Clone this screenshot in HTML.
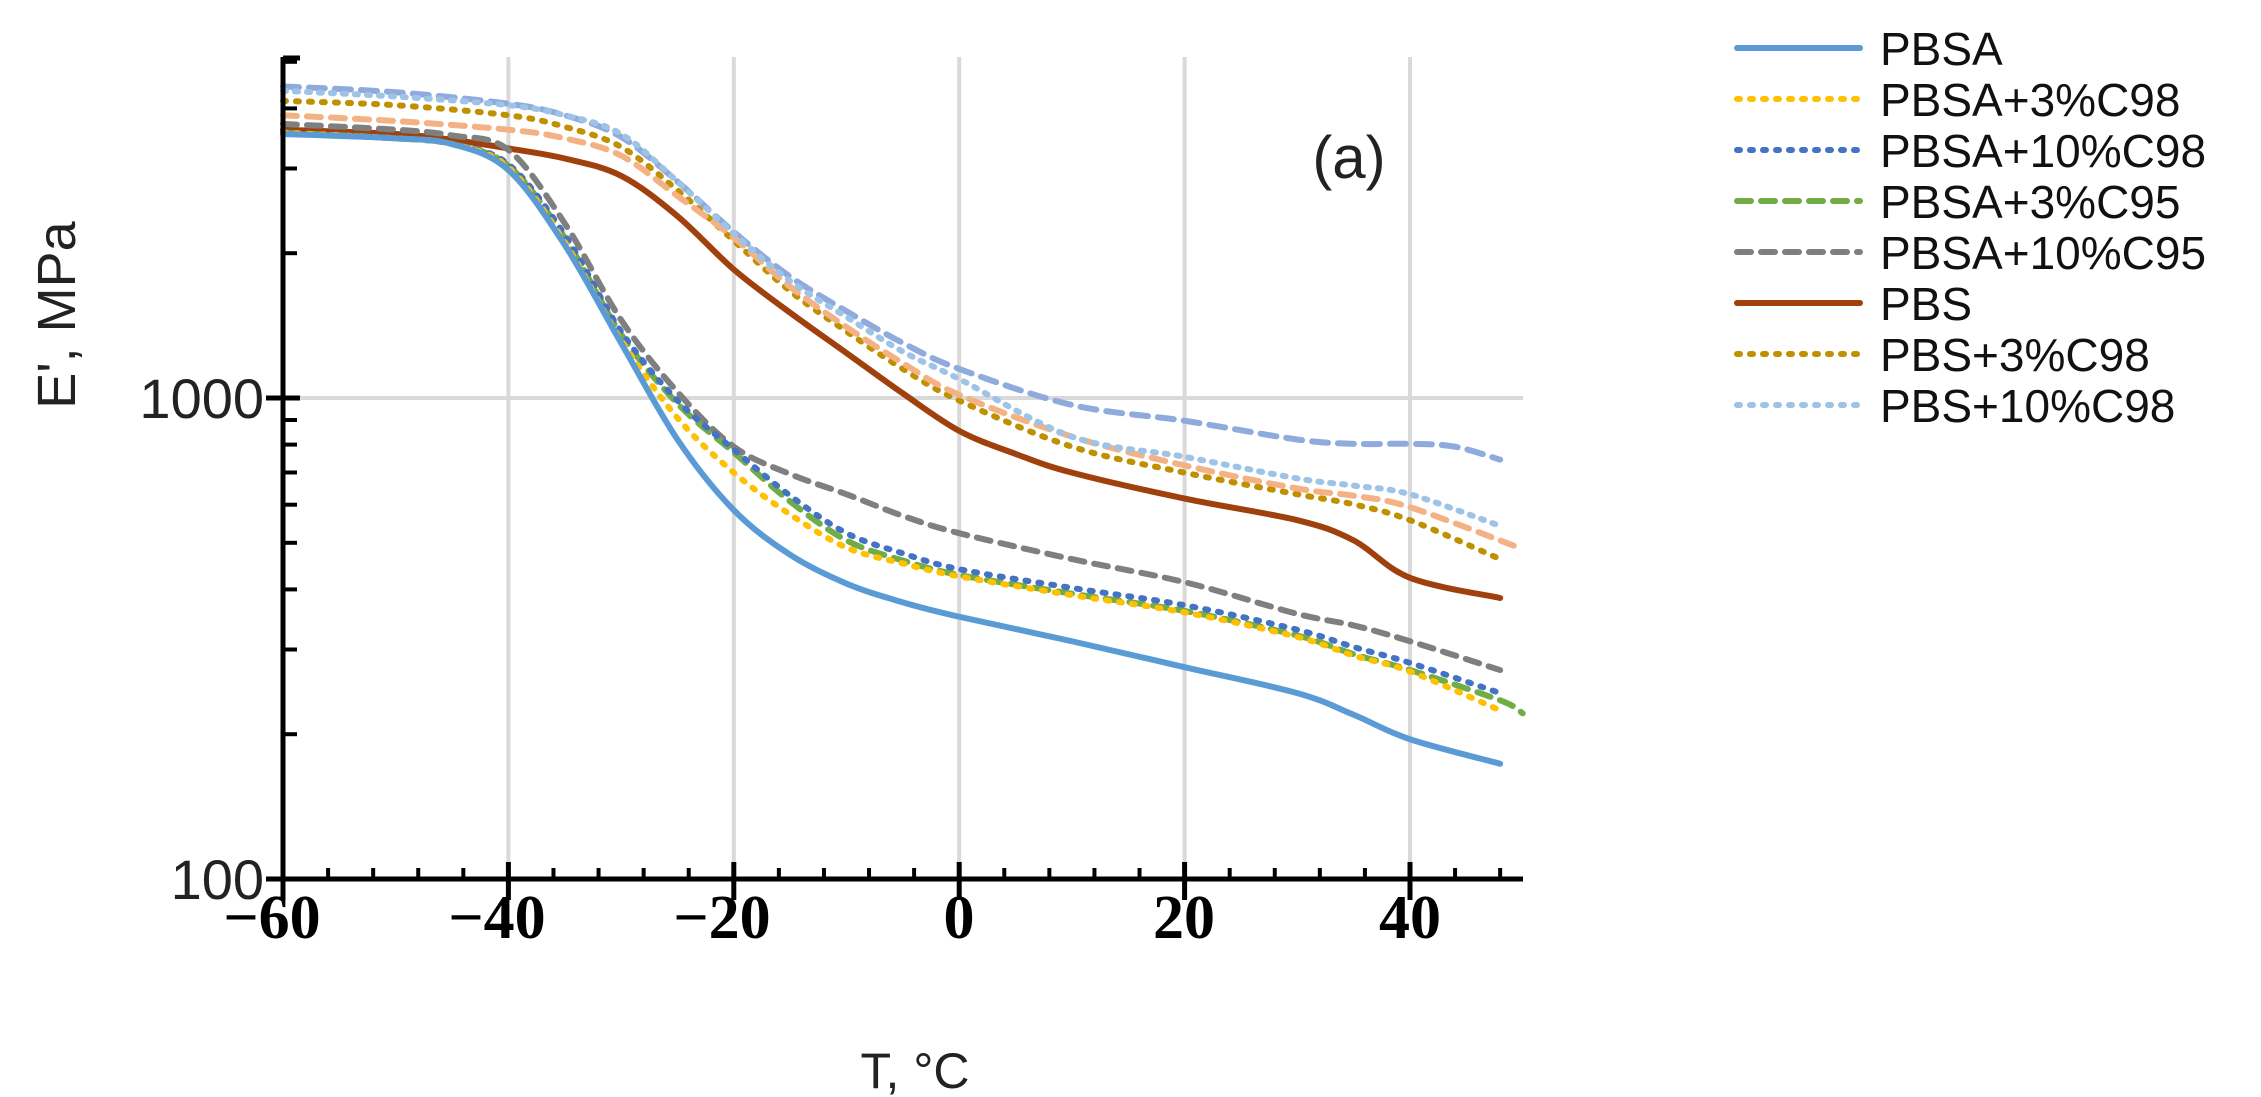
<!DOCTYPE html>
<html><head><meta charset="utf-8"><style>
html,body{margin:0;padding:0;background:#fff;}
svg{display:block;}
</style></head><body>
<svg id="c" width="2261" height="1097" viewBox="0 0 2261 1097" xmlns="http://www.w3.org/2000/svg">
<g id="grid" stroke="#d9d9d9" stroke-width="4"></g>
<g id="series" fill="none" stroke-linecap="round" stroke-linejoin="round"></g>
<g id="axes" stroke="#000" stroke-width="5"></g>
<g font-family="Liberation Sans, sans-serif" fill="#222">
<text x="264" y="418" text-anchor="end" font-size="56">1000</text>
<text x="264" y="899" text-anchor="end" font-size="56">100</text>
<text x="1349" y="178" text-anchor="middle" font-size="60">(a)</text>
<text x="915" y="1088" text-anchor="middle" font-size="50">T, °C</text>
<text transform="translate(75,315) rotate(-90)" text-anchor="middle" font-size="54">E', MPa</text>
</g>
<g font-family="Liberation Serif, serif" font-size="62" font-weight="bold" fill="#000" text-anchor="middle">
<text x="272" y="938">−60</text>
<text x="497" y="938">−40</text>
<text x="722" y="938">−20</text>
<text x="959" y="938">0</text>
<text x="1184" y="938">20</text>
<text x="1410" y="938">40</text>
</g>
<g id="legend" font-family="Liberation Sans, sans-serif" font-size="46" fill="#111"></g>
</svg>
<script>
const NS="http://www.w3.org/2000/svg";
const X=t=>283+(t+60)*11.27;
const Yp=p=>p*1.441;
function el(tag,attrs,parent){const e=document.createElementNS(NS,tag);for(const k in attrs)e.setAttribute(k,attrs[k]);parent.appendChild(e);return e;}
const grid=document.getElementById('grid'),axes=document.getElementById('axes');
[-40,-20,0,20,40].forEach(t=>el('line',{x1:X(t),x2:X(t),y1:57,y2:879},grid));
el('line',{x1:283,x2:1523,y1:398,y2:398},grid);
el('line',{x1:283,x2:283,y1:57,y2:881},axes);
el('line',{x1:281,x2:1523,y1:879,y2:879},axes);
for(let t=-60;t<=48;t+=4){const maj=(t%20===0);
 if(maj) el('line',{x1:X(t),x2:X(t),y1:862,y2:900},axes);
 else el('line',{x1:X(t),x2:X(t),y1:868,y2:879,'stroke-width':4},axes);}
const Ylog=v=>879-(Math.log10(v)-2)*481;
for(let d of [100,1000]){ for(let m=1;m<=9;m++){const v=d*m; const y=Ylog(v); if(y<55)continue;
 if(m===1) el('line',{x1:266,x2:300,y1:y,y2:y},axes);
 else el('line',{x1:283,x2:297,y1:y,y2:y,'stroke-width':4},axes);}}
el('line',{x1:283,x2:300,y1:58,y2:58},axes);
const S=[
 {c:"#8faadc",d:"16 10",w:6,p:[[-60,60],[-50,64],[-40,72],[-35,80],[-30,95],[-25,126],[-20,161],[-15,192],[-10,216],[-5,238],[0,256],[10,281],[20,292],[30,305],[35,308],[40,308],[44,310],[48,319]]},
 {c:"#bf9000",d:"3 10",w:6,p:[[-60,70],[-50,73],[-40,80],[-35,88],[-30,102],[-25,132],[-20,167],[-15,202],[-10,230],[-5,256],[0,278],[10,310],[20,328],[30,343],[35,350],[40,361],[48,388]]},
 {c:"#f4b183",d:"14 10",w:6,p:[[-60,80],[-50,84],[-40,90],[-35,96],[-30,108],[-25,136],[-20,165],[-15,199],[-10,227],[-5,252],[0,274],[10,303],[20,323],[30,339],[35,344],[40,352],[50,381]]},
 {c:"#9dc3e6",d:"3 9",w:6,p:[[-60,63],[-50,67],[-40,73],[-35,80],[-30,93],[-25,126],[-20,162],[-15,195],[-10,220],[-5,244],[0,263],[10,303],[20,317],[30,332],[35,337],[40,343],[48,365]]},
 {c:"#a0410d",d:"",w:6,p:[[-60,90],[-50,93],[-45,97],[-40,103],[-35,110],[-30,122],[-25,150],[-20,187],[-15,217],[-10,245],[-5,273],[0,299],[5,315],[10,328],[20,346],[30,361],[35,375],[40,401],[48,415]]},
 {c:"#7f7f7f",d:"14 10",w:6,p:[[-60,86],[-50,90],[-45,94],[-40,104],[-35,155],[-30,222],[-25,272],[-20,310],[-15,329],[-10,343],[-5,358],[0,370],[10,388],[20,404],[30,426],[35,434],[40,445],[48,465]]},
 {c:"#70ad47",d:"14 10",w:6,p:[[-60,92],[-50,96],[-45,100],[-40,115],[-35,165],[-30,232],[-25,280],[-20,314],[-15,348],[-10,375],[-5,389],[0,399],[10,412],[20,424],[30,441],[35,454],[40,465],[48,486],[50,495]]},
 {c:"#4472c4",d:"3 10",w:6,p:[[-60,92],[-50,96],[-45,100],[-40,114],[-35,163],[-30,230],[-25,278],[-20,312],[-15,344],[-10,370],[-5,384],[0,395],[10,408],[20,420],[30,437],[35,449],[40,460],[48,481]]},
 {c:"#ffc000",d:"3 10",w:6,p:[[-60,92],[-50,96],[-45,100],[-40,116],[-35,168],[-30,236],[-25,290],[-20,328],[-15,357],[-10,380],[-5,391],[0,400],[10,413],[20,425],[30,442],[35,455],[40,466],[48,493]]},
 {c:"#5b9bd5",d:"",w:6,p:[[-60,93],[-50,96],[-45,100],[-40,118],[-35,170],[-30,238],[-25,305],[-20,354],[-15,385],[-10,405],[-5,418],[0,428],[10,445],[20,463],[30,481],[35,496],[40,513],[48,530]]}
];
function path(pts){const P=pts.map(([t,y])=>[X(t),Yp(y)]);let s=`M${P[0][0]},${P[0][1]}`;
 for(let i=0;i<P.length-1;i++){const p0=P[i-1]||P[i],p1=P[i],p2=P[i+1],p3=P[i+2]||P[i+1];
  const c1=[p1[0]+(p2[0]-p0[0])/6,p1[1]+(p2[1]-p0[1])/6],c2=[p2[0]-(p3[0]-p1[0])/6,p2[1]-(p3[1]-p1[1])/6];
  s+=` C${c1[0]},${c1[1]} ${c2[0]},${c2[1]} ${p2[0]},${p2[1]}`;}return s;}
const sg=document.getElementById('series');
S.forEach(s=>{const a={d:path(s.p),stroke:s.c,'stroke-width':s.w};if(s.d)a['stroke-dasharray']=s.d;el('path',a,sg);});
const L=[["PBSA","#5b9bd5",""],["PBSA+3%C98","#ffc000","3 10"],["PBSA+10%C98","#4472c4","3 10"],["PBSA+3%C95","#70ad47","14 10"],["PBSA+10%C95","#7f7f7f","14 10"],["PBS","#a0410d",""],["PBS+3%C98","#bf9000","3 10"],["PBS+10%C98","#9dc3e6","3 10"]];
const lg=document.getElementById('legend');
L.forEach((l,i)=>{const y=48+51*i;const a={x1:1737,x2:1860,y1:y,y2:y,stroke:l[1],'stroke-width':6,'stroke-linecap':'round'};if(l[2])a['stroke-dasharray']=l[2];el('line',a,lg);
 const t=el('text',{x:1880,y:y+17},lg);t.textContent=l[0];});
</script>
</body></html>
